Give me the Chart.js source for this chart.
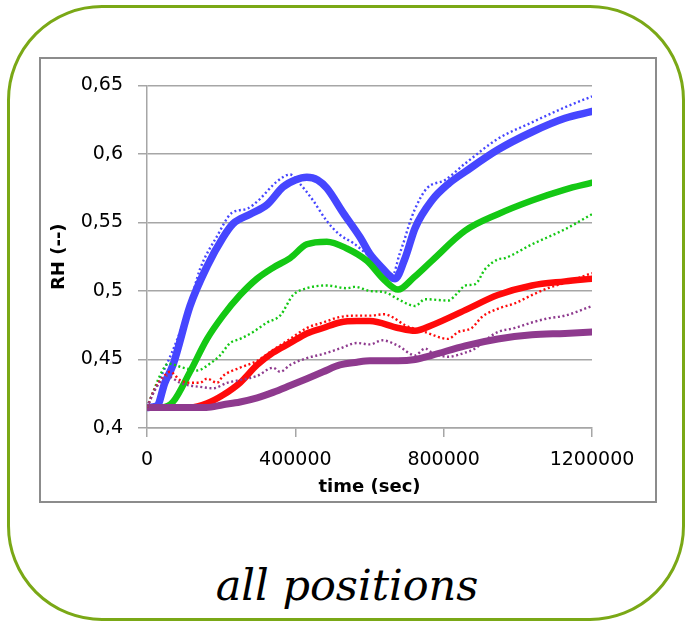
<!DOCTYPE html>
<html>
<head>
<meta charset="utf-8">
<script src="https://cdn.jsdelivr.net/npm/chart.js@4/dist/chart.umd.min.js"></script>
<style>
  html, body { margin: 0; padding: 0; background: #fff; }
  body { width: 686px; height: 621px; position: relative; overflow: hidden; }
  #frame {
    position: absolute; left: 7px; top: 5px; width: 672px; height: 610px;
    border: 3px solid #7aa816; border-radius: 95px;
  }
  #box {
    position: absolute; left: 39px; top: 57px; width: 614px; height: 442px;
    border: 2px solid #8c8c8c; background: #fff;
  }
  #wrap { position: absolute; left: 0; top: 0; width: 614px; height: 441px; }
  #caption {
    position: absolute; left: 0; width: 686px; top: 560px; text-align: center;
    font-family: "DejaVu Serif", serif; font-style: italic; font-size: 43px; color: #000;
    padding-left: 8px; box-sizing: border-box;
  }
</style>
</head>
<body>
<div id="frame"></div>
<div id="box"><div id="wrap"><canvas id="c"></canvas></div></div>
<div id="caption">all positions</div>
<script>
// Axis ticks
const xTicks = [0, 400000, 800000, 1200000];
const yTicks = [0.4, 0.45, 0.5, 0.55, 0.6, 0.65];
const yTickLabels = ["0,4", "0,45", "0,5", "0,55", "0,6", "0,65"];

// Simulated RH (solid curves)
const blueSimT = [0, 27000, 48000, 70000, 116000, 162000, 205000, 232000, 278000, 324000, 367000, 400000, 431000, 460000, 485000, 529000, 575000, 601000, 630000, 669000, 696000, 723000, 768000, 812000, 858000, 946000, 1038000, 1127000, 1200000];
const blueSimV = [0.415, 0.416, 0.433, 0.446, 0.489, 0.518, 0.539, 0.549, 0.556, 0.563, 0.576, 0.581, 0.583, 0.581, 0.575, 0.557, 0.539, 0.527, 0.518, 0.509, 0.524, 0.546, 0.566, 0.578, 0.587, 0.603, 0.616, 0.626, 0.631];

const greenSimT = [0, 40000, 70000, 116000, 162000, 205000, 251000, 297000, 340000, 386000, 431000, 485000, 539000, 593000, 640000, 677000, 720000, 768000, 858000, 946000, 1038000, 1127000, 1200000];
const greenSimV = [0.415, 0.415, 0.419, 0.441, 0.465, 0.482, 0.497, 0.509, 0.517, 0.524, 0.534, 0.536, 0.531, 0.522, 0.508, 0.501, 0.510, 0.522, 0.544, 0.556, 0.566, 0.574, 0.579];

const redSimT = [0, 116000, 162000, 205000, 251000, 297000, 340000, 386000, 431000, 475000, 520000, 566000, 601000, 677000, 723000, 768000, 858000, 946000, 1038000, 1127000, 1200000];
const redSimV = [0.415, 0.415, 0.418, 0.424, 0.433, 0.446, 0.455, 0.462, 0.469, 0.473, 0.477, 0.478, 0.478, 0.473, 0.471, 0.475, 0.486, 0.497, 0.504, 0.507, 0.509];

const purpleSimT = [0, 160000, 205000, 251000, 297000, 340000, 386000, 431000, 475000, 520000, 566000, 601000, 677000, 723000, 768000, 858000, 946000, 1038000, 1127000, 1200000];
const purpleSimV = [0.415, 0.415, 0.417, 0.419, 0.422, 0.426, 0.431, 0.436, 0.441, 0.446, 0.448, 0.449, 0.449, 0.450, 0.453, 0.460, 0.465, 0.468, 0.469, 0.470];

// Measured RH (dotted curves)
const blueMeasT = [0, 15000, 35000, 67000, 89000, 116000, 143000, 189000, 229000, 270000, 300000, 351000, 386000, 413000, 448000, 485000, 520000, 556000, 593000, 630000, 663000, 680000, 695000, 705000, 723000, 755000, 804000, 858000, 946000, 1038000, 1127000, 1200000];
const blueMeasV = [0.415, 0.425, 0.436, 0.455, 0.470, 0.491, 0.516, 0.540, 0.557, 0.560, 0.566, 0.580, 0.585, 0.578, 0.566, 0.551, 0.541, 0.535, 0.527, 0.519, 0.512, 0.526, 0.538, 0.547, 0.560, 0.575, 0.581, 0.593, 0.611, 0.623, 0.634, 0.642];

const greenMeasT = [0, 16000, 40000, 57000, 97000, 135000, 170000, 197000, 224000, 251000, 286000, 324000, 359000, 394000, 431000, 485000, 539000, 560000, 601000, 642000, 677000, 723000, 750000, 812000, 839000, 858000, 885000, 912000, 946000, 965000, 1038000, 1127000, 1200000];
const greenMeasV = [0.415, 0.426, 0.441, 0.447, 0.444, 0.442, 0.447, 0.453, 0.462, 0.465, 0.470, 0.477, 0.482, 0.497, 0.502, 0.504, 0.502, 0.503, 0.500, 0.499, 0.494, 0.489, 0.494, 0.493, 0.499, 0.504, 0.505, 0.516, 0.523, 0.524, 0.534, 0.545, 0.556];

const redMeasT = [0, 22000, 43000, 62000, 89000, 116000, 143000, 162000, 189000, 205000, 251000, 297000, 340000, 386000, 431000, 475000, 520000, 566000, 601000, 642000, 661000, 696000, 750000, 812000, 839000, 876000, 903000, 946000, 992000, 1038000, 1081000, 1127000, 1200000];
const redMeasV = [0.415, 0.429, 0.437, 0.441, 0.435, 0.433, 0.433, 0.436, 0.433, 0.438, 0.444, 0.449, 0.457, 0.465, 0.473, 0.477, 0.481, 0.482, 0.482, 0.483, 0.481, 0.475, 0.470, 0.465, 0.470, 0.473, 0.481, 0.487, 0.491, 0.497, 0.502, 0.506, 0.513];

const purpleMeasT = [0, 22000, 43000, 54000, 89000, 116000, 143000, 178000, 216000, 251000, 297000, 340000, 359000, 386000, 431000, 475000, 520000, 566000, 601000, 634000, 677000, 723000, 750000, 768000, 812000, 858000, 885000, 912000, 946000, 992000, 1038000, 1081000, 1127000, 1200000];
const purpleMeasV = [0.415, 0.428, 0.436, 0.438, 0.433, 0.431, 0.430, 0.429, 0.433, 0.435, 0.438, 0.444, 0.441, 0.446, 0.451, 0.454, 0.458, 0.462, 0.461, 0.464, 0.460, 0.453, 0.458, 0.455, 0.452, 0.455, 0.458, 0.464, 0.470, 0.473, 0.477, 0.480, 0.482, 0.489];

const BLUE = '#4646ff', GREEN = '#14c814', RED = '#ff0a0a', PURPLE = '#8e3a8e';

const pts = (t, v) => t.map((x, i) => ({x: x, y: v[i]}));

function measured(label, t, v, color) {
  return {
    label, data: pts(t, v), borderColor: color, backgroundColor: color,
    borderWidth: 2.4, borderDash: [2, 2.6], borderCapStyle: 'butt',
    pointRadius: 0, cubicInterpolationMode: 'monotone', fill: false
  };
}
function simulated(label, t, v, color, w) {
  return {
    label, data: pts(t, v), borderColor: color, backgroundColor: color,
    borderWidth: w, pointRadius: 0, cubicInterpolationMode: 'monotone',
    borderCapStyle: 'round', borderJoinStyle: 'round', fill: false
  };
}

const tickFont = {family: 'DejaVu Sans', size: 19};
const titleFont = {family: 'DejaVu Sans', size: 18, weight: 'bold'};
const gridColor = '#a6a6a6';

new Chart(document.getElementById('c'), {
  type: 'line',
  data: {
    datasets: [
      measured('purple measured', purpleMeasT, purpleMeasV, PURPLE),
      measured('red measured', redMeasT, redMeasV, RED),
      measured('green measured', greenMeasT, greenMeasV, GREEN),
      simulated('purple simulated', purpleSimT, purpleSimV, PURPLE, 7),
      simulated('red simulated', redSimT, redSimV, RED, 6.5),
      simulated('green simulated', greenSimT, greenSimV, GREEN, 6.5),
      measured('blue measured', blueMeasT, blueMeasV, BLUE),
      simulated('blue simulated', blueSimT, blueSimV, BLUE, 7.5)
    ]
  },
  options: {
    responsive: true,
    maintainAspectRatio: false,
    animation: false,
    events: [],
    layout: {padding: {left: 0, right: 63, top: 24, bottom: 0}},
    plugins: {legend: {display: false}, tooltip: {enabled: false}},
    scales: {
      x: {
        type: 'linear', min: 0, max: 1200000,
        afterBuildTicks: s => { s.ticks = xTicks.map(v => ({value: v})); },
        afterFit: s => { s.height = 72; },
        ticks: {
          color: '#000', font: tickFont, padding: 12, maxRotation: 0,
          callback: v => String(v)
        },
        grid: {drawOnChartArea: false, drawTicks: true, tickLength: 9, color: gridColor, lineWidth: 1.5},
        border: {display: true, color: gridColor, width: 1.5},
        title: {display: true, text: 'time (sec)', color: '#000', font: titleFont, padding: {top: 0, bottom: 2}}
      },
      y: {
        type: 'linear', min: 0.4, max: 0.65,
        afterBuildTicks: s => { s.ticks = yTicks.map(v => ({value: v})); },
        afterFit: s => { s.width = 106; },
        ticks: {
          color: '#000', font: tickFont, padding: 15,
          callback: v => yTickLabels[yTicks.findIndex(t => Math.abs(t - v) < 1e-9)]
        },
        grid: {drawOnChartArea: true, drawTicks: true, tickLength: 9, color: gridColor, lineWidth: 1.5},
        border: {display: true, color: gridColor, width: 1.5},
        title: {display: true, text: 'RH (--)', color: '#000', font: titleFont, padding: {top: 8, bottom: 0}}
      }
    }
  }
});
</script>
</body>
</html>
